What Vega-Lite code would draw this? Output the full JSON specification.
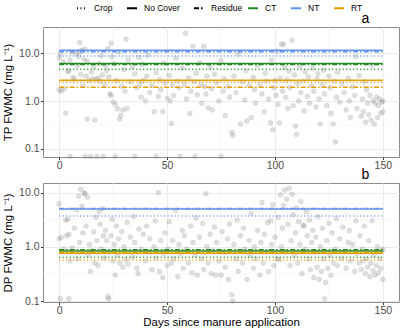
{
  "$schema": "https://vega.github.io/schema/vega-lite/v6.json",
  "padding": {"left": 2, "top": 2, "right": 1, "bottom": 0},
  "bounds": "flush",
  "spacing": 26,
  "config": {
    "font": "Liberation Sans",
    "view": {"stroke": "#8c8c8c", "strokeWidth": 1},
    "axis": {
      "labelFont": "Liberation Sans", "labelFontSize": 10.5, "labelColor": "#4d4d4d",
      "tickColor": "#333333", "tickSize": 2.5, "labelPadding": 1.5, "domain": false,
      "gridColor": "#ebebeb", "gridWidth": 1,
      "titleFont": "Liberation Sans", "titleFontSize": 11.5, "titleFontWeight": "normal", "titleColor": "#000000"
    },
    "legend": {
      "orient": "none", "direction": "horizontal", "title": null,
      "labelFont": "Liberation Sans", "labelFontSize": 8.5, "labelColor": "#000000",
      "symbolType": "stroke", "symbolSize": 100, "symbolStrokeWidth": 2, "symbolOpacity": 1,
      "columnPadding": 10, "labelOffset": 6
    },
    "title": {"font": "Liberation Sans", "fontSize": 14, "fontWeight": "normal", "color": "#000000", "anchor": "end"}
  },
  "datasets": {
    "tp": [
      {"d":0,"v":7.9},{"d":0,"v":1.7},{"d":0.5,"v":9.5},{"d":1,"v":1.6},{"d":2,"v":6.5},{"d":2.5,"v":1.8},{"d":3,"v":0.56},{"d":4,"v":4.1},{"d":4.5,"v":4.3},{"d":5,"v":7.2},{"d":5,"v":0.07},{"d":6,"v":10.2},{"d":6.5,"v":3.1},{"d":7,"v":2.8},{"d":8,"v":9.8},{"d":8.5,"v":5.5},{"d":9,"v":8.6},{"d":9.5,"v":16.5},{"d":10,"v":10.8},{"d":10,"v":3.6},{"d":10.5,"v":11.5},{"d":11,"v":2.1},{"d":11.5,"v":7.5},{"d":12,"v":0.07},{"d":12,"v":12.0},{"d":12.5,"v":3.3},{"d":13,"v":0.42},{"d":13,"v":6.8},{"d":14,"v":2.7},{"d":14.5,"v":0.07},{"d":15,"v":4.0},{"d":15.5,"v":2.9},{"d":16,"v":5.2},{"d":16.5,"v":0.4},{"d":17,"v":2.8},{"d":17.5,"v":0.07},{"d":18,"v":3.0},{"d":18.5,"v":6.0},{"d":19,"v":2.6},{"d":19.5,"v":8.7},{"d":20,"v":3.5},{"d":20.5,"v":0.07},{"d":21,"v":2.2},{"d":21.5,"v":5.5},{"d":22,"v":4.3},{"d":22.5,"v":12.5},{"d":23,"v":3.2},{"d":23.5,"v":1.4},{"d":24,"v":16.0},{"d":24,"v":1.3},{"d":24.5,"v":8.4},{"d":25,"v":0.95},{"d":25.5,"v":5.9},{"d":26,"v":0.85},{"d":26,"v":0.07},{"d":26.5,"v":2.7},{"d":27,"v":0.68},{"d":27.5,"v":10.5},{"d":28,"v":0.42},{"d":28.5,"v":0.5},{"d":29,"v":2.0},{"d":29.5,"v":0.65},{"d":30,"v":4.5},{"d":30.5,"v":1.6},{"d":31,"v":19.5},{"d":31.5,"v":0.7},{"d":32,"v":7.3},{"d":33,"v":2.5},{"d":34,"v":5.2},{"d":35,"v":0.07},{"d":35,"v":3.7},{"d":36,"v":1.9},{"d":37,"v":8.1},{"d":37.5,"v":2.3},{"d":38,"v":1.2},{"d":38.5,"v":5.8},{"d":39,"v":2.7},{"d":40,"v":1.0},{"d":40.5,"v":3.3},{"d":41,"v":9.0},{"d":42,"v":1.5},{"d":43,"v":2.1},{"d":44,"v":0.6},{"d":45,"v":0.07},{"d":45,"v":3.9},{"d":46,"v":1.25},{"d":46.5,"v":2.8},{"d":47,"v":1.7},{"d":48,"v":0.6},{"d":48.5,"v":6.1},{"d":49,"v":2.4},{"d":50,"v":1.15},{"d":51,"v":3.4},{"d":51.5,"v":1.0},{"d":52,"v":0.34},{"d":52.5,"v":2.2},{"d":53,"v":1.3},{"d":54,"v":7.8},{"d":55,"v":2.6},{"d":55.5,"v":1.9},{"d":56,"v":0.07},{"d":57,"v":4.8},{"d":58,"v":2.3},{"d":58.5,"v":26.0},{"d":59,"v":1.1},{"d":60,"v":3.0},{"d":60.5,"v":0.55},{"d":61,"v":1.6},{"d":62,"v":14.0},{"d":62.5,"v":2.5},{"d":63,"v":0.07},{"d":63.5,"v":3.8},{"d":64,"v":1.35},{"d":65,"v":6.3},{"d":65.5,"v":2.2},{"d":66,"v":0.9},{"d":67,"v":13.8},{"d":67.5,"v":2.0},{"d":68,"v":1.4},{"d":68.5,"v":3.3},{"d":69,"v":0.72},{"d":70,"v":5.0},{"d":70.5,"v":1.8},{"d":71,"v":0.65},{"d":72,"v":3.6},{"d":73,"v":2.4},{"d":74,"v":1.0},{"d":75,"v":0.07},{"d":75,"v":6.9},{"d":76,"v":1.6},{"d":76.5,"v":2.9},{"d":77,"v":0.5},{"d":78,"v":2.0},{"d":79,"v":1.2},{"d":80,"v":0.22},{"d":80.5,"v":0.19},{"d":81,"v":3.3},{"d":82,"v":1.5},{"d":83,"v":9.5},{"d":84,"v":0.33},{"d":85,"v":2.5},{"d":86,"v":1.05},{"d":86.5,"v":4.3},{"d":87,"v":0.38},{"d":88,"v":2.1},{"d":89,"v":0.45},{"d":90,"v":3.1},{"d":90.5,"v":1.7},{"d":91,"v":0.9},{"d":92,"v":5.6},{"d":93,"v":2.2},{"d":94,"v":1.4},{"d":95,"v":0.6},{"d":95.5,"v":3.8},{"d":96,"v":2.6},{"d":97,"v":1.1},{"d":98,"v":0.35},{"d":98.5,"v":7.2},{"d":99,"v":0.25},{"d":99.5,"v":1.9},{"d":100,"v":2.7},{"d":100.5,"v":1.3},{"d":101,"v":11.0},{"d":101.5,"v":0.85},{"d":102,"v":0.35},{"d":102.5,"v":3.0},{"d":103,"v":15.0},{"d":103.5,"v":1.6},{"d":104,"v":15.5},{"d":104.5,"v":5.0},{"d":105,"v":1.2},{"d":105.5,"v":2.8},{"d":106,"v":0.7},{"d":106.5,"v":4.2},{"d":107,"v":1.9},{"d":108,"v":18.5},{"d":108.5,"v":0.8},{"d":109,"v":3.5},{"d":109.5,"v":0.3},{"d":110,"v":0.2},{"d":110.5,"v":2.3},{"d":111,"v":1.0},{"d":111.5,"v":5.3},{"d":112,"v":1.5},{"d":113,"v":2.6},{"d":113.5,"v":0.62},{"d":114,"v":4.1},{"d":115,"v":1.25},{"d":115.5,"v":3.2},{"d":116,"v":0.9},{"d":117,"v":2.1},{"d":117.5,"v":4.8},{"d":118,"v":1.6},{"d":119,"v":0.75},{"d":119.5,"v":2.9},{"d":120,"v":3.7},{"d":120.5,"v":1.1},{"d":121,"v":0.33},{"d":122,"v":2.2},{"d":122.5,"v":4.4},{"d":123,"v":1.4},{"d":124,"v":0.8},{"d":125,"v":3.3},{"d":125.5,"v":1.9},{"d":126,"v":0.55},{"d":127,"v":0.33},{"d":127.5,"v":2.6},{"d":128,"v":0.14},{"d":128.5,"v":1.2},{"d":129,"v":4.0},{"d":130,"v":0.95},{"d":131,"v":2.3},{"d":132,"v":1.5},{"d":133,"v":0.65},{"d":134,"v":3.0},{"d":134.5,"v":1.0},{"d":135,"v":0.45},{"d":136,"v":2.0},{"d":137,"v":1.3},{"d":137.5,"v":8.5},{"d":138,"v":0.7},{"d":139,"v":3.4},{"d":140,"v":0.48},{"d":140.5,"v":1.1},{"d":141,"v":0.6},{"d":141.5,"v":2.5},{"d":142,"v":0.36},{"d":142.5,"v":1.7},{"d":143,"v":0.9},{"d":143.5,"v":0.52},{"d":144,"v":1.3},{"d":144.5,"v":0.4},{"d":145,"v":5.6},{"d":145.5,"v":1.0},{"d":146,"v":0.33},{"d":146.5,"v":0.9},{"d":147,"v":1.2},{"d":147.5,"v":0.45},{"d":148,"v":0.8},{"d":148.5,"v":1.1},{"d":149,"v":0.55},{"d":149.5,"v":0.95},{"d":150,"v":1.0},{"d":150,"v":0.6}
    ],
    "dp": [
      {"d":0,"v":6.2},{"d":0,"v":1.4},{"d":0.5,"v":0.11},{"d":1,"v":1.5},{"d":2,"v":0.9},{"d":3,"v":3.1},{"d":3.5,"v":1.6},{"d":4,"v":3.2},{"d":4.5,"v":0.11},{"d":4.5,"v":1.7},{"d":5,"v":0.55},{"d":6,"v":0.95},{"d":7,"v":2.2},{"d":8,"v":4.8},{"d":8.5,"v":0.6},{"d":9,"v":8.5},{"d":9.5,"v":1.2},{"d":10,"v":11.5},{"d":10.5,"v":5.6},{"d":11,"v":1.8},{"d":11.5,"v":9.8},{"d":12,"v":9.5},{"d":12.5,"v":2.4},{"d":13,"v":8.2},{"d":13.5,"v":0.7},{"d":14,"v":1.1},{"d":14.5,"v":0.35},{"d":15,"v":0.85},{"d":16,"v":1.9},{"d":16.5,"v":0.5},{"d":17,"v":3.5},{"d":17.5,"v":1.3},{"d":18,"v":0.45},{"d":18.5,"v":4.4},{"d":19,"v":2.6},{"d":19.5,"v":0.9},{"d":20,"v":5.0},{"d":20.5,"v":1.6},{"d":21,"v":0.62},{"d":21.5,"v":2.0},{"d":22,"v":1.3},{"d":22.5,"v":0.12},{"d":23,"v":0.11},{"d":23,"v":0.8},{"d":24,"v":1.6},{"d":24.5,"v":3.2},{"d":25,"v":0.55},{"d":25.5,"v":1.1},{"d":26,"v":0.3},{"d":26.5,"v":2.4},{"d":27,"v":0.7},{"d":27.5,"v":1.4},{"d":28,"v":0.5},{"d":29,"v":1.9},{"d":29.5,"v":0.42},{"d":30,"v":1.0},{"d":31,"v":0.58},{"d":31.5,"v":2.8},{"d":32,"v":0.48},{"d":33,"v":1.5},{"d":34,"v":0.65},{"d":34.5,"v":3.6},{"d":35,"v":1.2},{"d":36,"v":0.4},{"d":36.5,"v":0.32},{"d":37,"v":2.1},{"d":38,"v":0.9},{"d":39,"v":1.7},{"d":40,"v":0.55},{"d":40.5,"v":2.4},{"d":41,"v":0.8},{"d":42,"v":1.4},{"d":43,"v":0.38},{"d":44,"v":1.0},{"d":44.5,"v":3.0},{"d":45,"v":0.62},{"d":46,"v":10.0},{"d":46.5,"v":0.35},{"d":47,"v":1.3},{"d":48,"v":0.27},{"d":48.5,"v":0.75},{"d":49,"v":1.8},{"d":50,"v":0.45},{"d":50.5,"v":0.9},{"d":51,"v":2.9},{"d":52,"v":0.5},{"d":52.5,"v":1.3},{"d":53,"v":0.6},{"d":54,"v":4.7},{"d":55,"v":0.28},{"d":55.5,"v":1.1},{"d":56,"v":0.75},{"d":57,"v":2.0},{"d":57.5,"v":0.4},{"d":58,"v":1.6},{"d":59,"v":0.9},{"d":60,"v":0.5},{"d":61,"v":2.4},{"d":61.5,"v":0.33},{"d":62,"v":1.2},{"d":63,"v":0.7},{"d":63.5,"v":3.4},{"d":64,"v":0.3},{"d":65,"v":1.5},{"d":66,"v":0.6},{"d":66.5,"v":2.7},{"d":67,"v":0.38},{"d":68,"v":9.5},{"d":68.5,"v":1.0},{"d":69,"v":0.5},{"d":70,"v":1.7},{"d":70.5,"v":0.32},{"d":71,"v":0.85},{"d":72,"v":2.3},{"d":72.5,"v":0.3},{"d":73,"v":1.2},{"d":74,"v":0.55},{"d":75,"v":0.3},{"d":75.5,"v":1.9},{"d":76,"v":0.8},{"d":77,"v":0.42},{"d":78,"v":1.4},{"d":78.5,"v":0.25},{"d":79,"v":2.6},{"d":80,"v":0.13},{"d":80.5,"v":0.1},{"d":81,"v":1.1},{"d":82,"v":0.6},{"d":82.5,"v":3.1},{"d":83,"v":0.35},{"d":84,"v":1.6},{"d":85,"v":0.5},{"d":85.5,"v":2.2},{"d":86,"v":0.9},{"d":87,"v":0.25},{"d":88,"v":1.3},{"d":88.5,"v":0.7},{"d":89,"v":4.1},{"d":90,"v":0.4},{"d":90.5,"v":1.0},{"d":91,"v":0.6},{"d":92,"v":2.0},{"d":93,"v":0.3},{"d":93.5,"v":1.2},{"d":94,"v":6.5},{"d":94.5,"v":0.5},{"d":95,"v":1.7},{"d":96,"v":0.8},{"d":96.5,"v":2.8},{"d":97,"v":0.35},{"d":98,"v":3.0},{"d":98.5,"v":1.1},{"d":99,"v":6.0},{"d":99.5,"v":0.45},{"d":100,"v":1.5},{"d":101,"v":0.6},{"d":101.5,"v":3.5},{"d":102,"v":0.58},{"d":102.5,"v":9.0},{"d":103,"v":1.0},{"d":103.5,"v":2.2},{"d":104,"v":5.7},{"d":104.5,"v":11.0},{"d":105,"v":0.8},{"d":105.5,"v":7.5},{"d":106,"v":2.6},{"d":106.5,"v":12.0},{"d":107,"v":0.45},{"d":107.5,"v":1.3},{"d":108,"v":9.3},{"d":108.5,"v":3.9},{"d":109,"v":0.7},{"d":109.5,"v":1.8},{"d":110,"v":5.2},{"d":110.5,"v":0.5},{"d":111,"v":2.9},{"d":111.5,"v":1.1},{"d":112,"v":6.8},{"d":112.5,"v":0.32},{"d":113,"v":2.5},{"d":113.5,"v":2.4},{"d":114,"v":0.9},{"d":114.5,"v":4.4},{"d":115,"v":1.6},{"d":115.5,"v":0.6},{"d":116,"v":3.1},{"d":116.5,"v":0.38},{"d":117,"v":1.2},{"d":117.5,"v":2.0},{"d":118,"v":0.27},{"d":118.5,"v":0.8},{"d":119,"v":1.5},{"d":119.5,"v":0.42},{"d":120,"v":3.6},{"d":120.5,"v":0.25},{"d":121,"v":1.0},{"d":121.5,"v":0.35},{"d":122,"v":2.2},{"d":122.5,"v":0.6},{"d":123,"v":0.11},{"d":123.5,"v":0.22},{"d":124,"v":1.3},{"d":124.5,"v":0.4},{"d":125,"v":2.7},{"d":125.5,"v":0.7},{"d":126,"v":0.3},{"d":126.5,"v":1.8},{"d":127,"v":0.5},{"d":128,"v":0.9},{"d":128.5,"v":3.3},{"d":129,"v":0.45},{"d":130,"v":1.4},{"d":131,"v":0.6},{"d":131.5,"v":2.3},{"d":132,"v":0.8},{"d":133,"v":0.4},{"d":134,"v":1.2},{"d":134.5,"v":2.0},{"d":135,"v":0.55},{"d":136,"v":1.1},{"d":137,"v":0.35},{"d":137.5,"v":3.0},{"d":138,"v":0.75},{"d":139,"v":0.5},{"d":139.5,"v":1.6},{"d":140,"v":0.38},{"d":140.5,"v":0.9},{"d":141,"v":0.55},{"d":141.5,"v":2.4},{"d":142,"v":0.32},{"d":142.5,"v":0.6},{"d":143,"v":0.42},{"d":143.5,"v":1.3},{"d":144,"v":0.28},{"d":144.5,"v":0.5},{"d":145,"v":3.0},{"d":145.5,"v":0.36},{"d":146,"v":0.7},{"d":146.5,"v":0.3},{"d":147,"v":0.45},{"d":147.5,"v":1.0},{"d":148,"v":0.33},{"d":148.5,"v":0.6},{"d":149,"v":0.4},{"d":149.5,"v":0.85},{"d":150,"v":0.9},{"d":150,"v":0.25}
    ],
    "fits": [
      {"p":"TP","sys":"NT","cover":"Crop","v":8.7},
      {"p":"TP","sys":"NT","cover":"No Cover","v":11.5},
      {"p":"TP","sys":"NT","cover":"Residue","v":10.6},
      {"p":"TP","sys":"CT","cover":"Crop","v":4.6},
      {"p":"TP","sys":"CT","cover":"No Cover","v":6.1},
      {"p":"TP","sys":"CT","cover":"Residue","v":5.8},
      {"p":"TP","sys":"RT","cover":"Crop","v":2.45},
      {"p":"TP","sys":"RT","cover":"No Cover","v":2.7},
      {"p":"TP","sys":"RT","cover":"Residue","v":1.93},
      {"p":"DP","sys":"NT","cover":"Crop","v":3.7},
      {"p":"DP","sys":"NT","cover":"No Cover","v":4.95},
      {"p":"DP","sys":"NT","cover":"Residue","v":5.1},
      {"p":"DP","sys":"CT","cover":"Crop","v":0.64},
      {"p":"DP","sys":"CT","cover":"No Cover","v":0.84},
      {"p":"DP","sys":"CT","cover":"Residue","v":0.88},
      {"p":"DP","sys":"RT","cover":"Crop","v":0.57},
      {"p":"DP","sys":"RT","cover":"No Cover","v":0.76},
      {"p":"DP","sys":"RT","cover":"Residue","v":0.79}
    ]
  },
  "vconcat": [
    {
      "width": 356, "height": 130,
      "title": {"text": "a", "dx": -30, "offset": 1},
      "layer": [
        {
          "data": {"values": [{"d": 25}, {"d": 75}, {"d": 125}]},
          "mark": {"type": "rule", "color": "#f2f2f2", "strokeWidth": 0.6},
          "encoding": {"x": {"field": "d", "type": "quantitative"}}
        },
        {
          "data": {"values": [{"v": 0.3162}, {"v": 3.162}, {"v": 31.62}]},
          "mark": {"type": "rule", "color": "#f2f2f2", "strokeWidth": 0.6},
          "encoding": {"y": {"field": "v", "type": "quantitative"}}
        },
        {
          "data": {"name": "tp"},
          "mark": {"type": "circle", "size": 24, "color": "#6e6e6e", "fillOpacity": 0.22, "stroke": "#6e6e6e", "strokeOpacity": 0.2, "strokeWidth": 0.6},
          "encoding": {
            "x": {"field": "d", "type": "quantitative", "scale": {"domain": [-7.5, 157.5], "nice": false, "zero": false},
                  "axis": {"values": [0, 50, 100, 150], "title": null, "labelPadding": 1}},
            "y": {"field": "v", "type": "quantitative", "scale": {"type": "log", "domain": [0.068, 35], "nice": false},
                  "axis": {"values": [0.1, 1, 10], "format": ".1f", "title": "TP FWMC (mg L⁻¹)", "titlePadding": 5}}
          }
        },
        {
          "data": {"name": "fits"},
          "transform": [{"filter": "datum.p === 'TP'"}],
          "mark": {"type": "rule", "strokeWidth": 1.5, "opacity": 0},
          "encoding": {
            "x": {"datum": 0}, "x2": {"datum": 150},
            "y": {"field": "v", "type": "quantitative"},
            "strokeDash": {"field": "cover", "type": "nominal", "scale": {"domain": ["Crop", "No Cover", "Residue"], "range": [[1, 2.5], [1, 0], [5, 2, 1.5, 2]]},
                           "legend": {"symbolStrokeColor": "#000000", "symbolOpacity": 1, "legendX": 33, "legendY": -25}}
          }
        },
        {
          "data": {"name": "fits"},
          "transform": [{"filter": "datum.p === 'TP'"}],
          "mark": {"type": "rule", "strokeWidth": 1.5},
          "encoding": {
            "x": {"datum": 0}, "x2": {"datum": 150},
            "y": {"field": "v", "type": "quantitative"},
            "color": {"field": "sys", "type": "nominal", "scale": {"domain": ["CT", "NT", "RT"], "range": ["#228B22", "#6495ED", "#E69F00"]},
                      "legend": {"symbolDash": [1, 0], "legendX": 204, "legendY": -25}},
            "strokeDash": {"field": "cover", "type": "nominal"}
          }
        }
      ]
    },
    {
      "width": 356, "height": 119,
      "title": {"text": "b", "dx": -30, "offset": 1},
      "layer": [
        {
          "data": {"values": [{"d": 25}, {"d": 75}, {"d": 125}]},
          "mark": {"type": "rule", "color": "#f2f2f2", "strokeWidth": 0.6},
          "encoding": {"x": {"field": "d", "type": "quantitative"}}
        },
        {
          "data": {"values": [{"v": 0.3162}, {"v": 3.162}]},
          "mark": {"type": "rule", "color": "#f2f2f2", "strokeWidth": 0.6},
          "encoding": {"y": {"field": "v", "type": "quantitative"}}
        },
        {
          "data": {"name": "dp"},
          "mark": {"type": "circle", "size": 24, "color": "#6e6e6e", "fillOpacity": 0.22, "stroke": "#6e6e6e", "strokeOpacity": 0.2, "strokeWidth": 0.6},
          "encoding": {
            "x": {"field": "d", "type": "quantitative", "scale": {"domain": [-7.5, 157.5], "nice": false, "zero": false},
                  "axis": {"values": [0, 50, 100, 150], "title": "Days since manure application", "titlePadding": 0, "labelPadding": 1}},
            "y": {"field": "v", "type": "quantitative", "scale": {"type": "log", "domain": [0.096, 15], "nice": false},
                  "axis": {"values": [0.1, 1, 10], "format": ".1f", "title": "DP FWMC (mg L⁻¹)", "titlePadding": 5}}
          }
        },
        {
          "data": {"name": "fits"},
          "transform": [{"filter": "datum.p === 'DP'"}],
          "mark": {"type": "rule", "strokeWidth": 1.5},
          "encoding": {
            "x": {"datum": 0}, "x2": {"datum": 150},
            "y": {"field": "v", "type": "quantitative"},
            "color": {"field": "sys", "type": "nominal"},
            "strokeDash": {"field": "cover", "type": "nominal"}
          }
        }
      ]
    }
  ]
}
